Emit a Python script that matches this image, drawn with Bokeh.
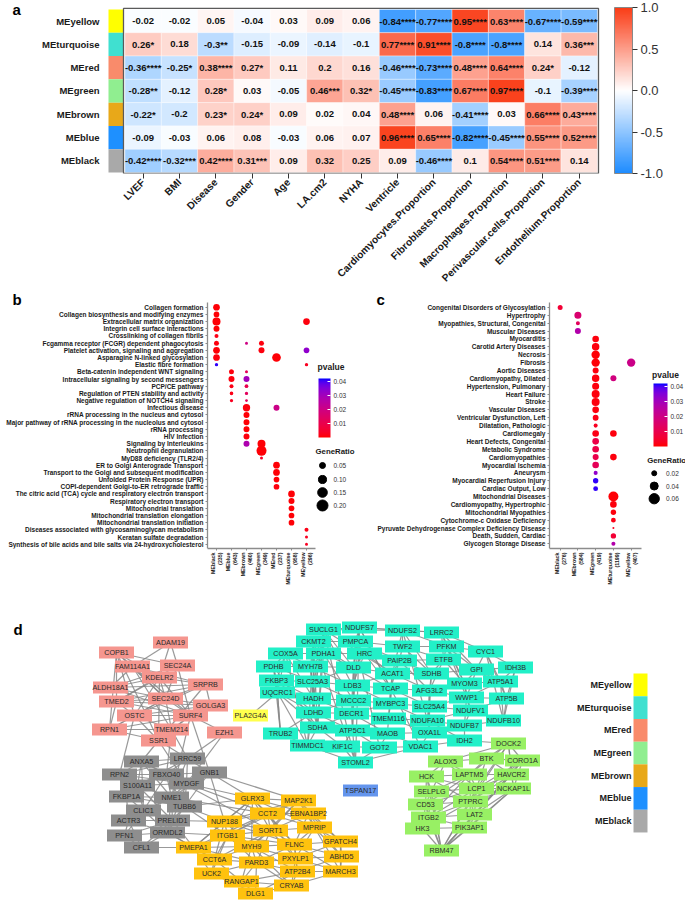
import math
from bokeh.plotting import figure
from bokeh.models import (Range1d, FixedTicker, LinearColorMapper, ColorBar,
                          PrintfTickFormatter, ColumnDataSource)
from bokeh.layouts import column, row
from bokeh.core.properties import value
from bokeh.embed import file_html
from bokeh.resources import INLINE

FONT = "Liberation Sans"

# ---------------- panel a data ----------------
modules_a = ["MEyellow", "MEturquoise", "MEred", "MEgreen", "MEbrown", "MEblue", "MEblack"]
traits = ["LVEF", "BMI", "Disease", "Gender", "Age", "LA.cm2", "NYHA", "Ventricle",
          "Cardiomyocytes.Proportion", "Fibroblasts.Proportion", "Macrophages.Proportion",
          "Perivascular.cells.Proportion", "Endothelium.Proportion"]
corr_yellow = [-0.02, -0.02, 0.05, -0.04, 0.03, 0.09, 0.06, -0.84, -0.77, 0.95, 0.63, -0.67, -0.59]
corr_turquoise = [0.26, 0.18, -0.3, -0.15, -0.09, -0.14, -0.1, 0.77, 0.91, -0.8, -0.8, 0.14, 0.36]
corr_red = [-0.36, -0.25, 0.38, 0.27, 0.11, 0.2, 0.16, -0.46, -0.73, 0.48, 0.64, 0.24, -0.12]
corr_green = [-0.28, -0.12, 0.28, 0.03, -0.05, 0.46, 0.32, -0.45, -0.83, 0.67, 0.97, -0.1, -0.39]
corr_brown = [-0.22, -0.2, 0.23, 0.24, 0.09, 0.02, 0.04, 0.48, 0.06, -0.41, 0.03, 0.66, 0.43]
corr_blue = [-0.09, -0.03, 0.06, 0.08, -0.03, 0.06, 0.07, 0.96, 0.65, -0.82, -0.45, 0.55, 0.52]
corr_black = [-0.42, -0.32, 0.42, 0.31, 0.09, 0.32, 0.25, 0.09, -0.46, 0.1, 0.54, 0.51, 0.14]
stars_yellow = ["", "", "", "", "", "", "", "****", "****", "****", "****", "****", "****"]
stars_turquoise = ["*", "", "**", "", "", "", "", "****", "****", "****", "****", "", "***"]
stars_red = ["****", "*", "****", "*", "", "", "", "****", "****", "****", "****", "*", ""]
stars_green = ["**", "", "*", "", "", "***", "*", "****", "****", "****", "****", "", "****"]
stars_brown = ["*", "", "*", "*", "", "", "", "****", "", "****", "", "****", "****"]
stars_blue = ["", "", "", "", "", "", "", "****", "****", "****", "****", "****", "****"]
stars_black = ["****", "***", "****", "***", "", "", "", "", "****", "", "****", "****", ""]
corr = [corr_yellow, corr_turquoise, corr_red, corr_green, corr_brown, corr_blue, corr_black]
stars = [stars_yellow, stars_turquoise, stars_red, stars_green, stars_brown, stars_blue, stars_black]
corr_ticks = [-1.0, -0.5, 0.0, 0.5, 1.0]

# ---------------- panel b data ----------------
b_terms = ["Collagen formation", "Collagen biosynthesis and modifying enzymes",
           "Extracellular matrix organization", "Integrin cell surface interactions",
           "Crosslinking of collagen fibrils", "Fcgamma receptor (FCGR) dependent phagocytosis",
           "Platelet activation, signaling and aggregation", "Asparagine N-linked glycosylation",
           "Elastic fibre formation", "Beta-catenin independent WNT signaling",
           "Intracellular signaling by second messengers", "PCP/CE pathway",
           "Regulation of PTEN stability and activity", "Negative regulation of NOTCH4 signaling",
           "Infectious disease", "rRNA processing in the nucleus and cytosol",
           "Major pathway of rRNA processing in the nucleolus and cytosol", "rRNA processing",
           "HIV Infection", "Signaling by Interleukins", "Neutrophil degranulation",
           "MyD88 deficiency (TLR2/4)", "ER to Golgi Anterograde Transport",
           "Transport to the Golgi and subsequent modification", "Unfolded Protein Response (UPR)",
           "COPI-dependent Golgi-to-ER retrograde traffic",
           "The citric acid (TCA) cycle and respiratory electron transport",
           "Respiratory electron transport", "Mitochondrial translation",
           "Mitochondrial translation elongation", "Mitochondrial translation initiation",
           "Diseases associated with glycosaminoglycan metabolism", "Keratan sulfate degradation",
           "Synthesis of bile acids and bile salts via 24-hydroxycholesterol"]
b_modules = ["MEblack\n(235)", "MEblue\n(643)", "MEbrown\n(460)", "MEgreen\n(349)",
             "MEred\n(237)", "MEturquoise\n(958)", "MEyellow\n(296)"]
b_dot_term = [0, 1, 2, 3, 4, 5, 6, 7, 8, 5, 5, 6, 7, 2, 6, 8, 9, 10, 11, 12, 13, 9, 10, 11, 12, 13,
              14, 15, 16, 17, 18, 19, 14, 19, 20, 21, 22, 23, 24, 25, 26, 27, 28, 29, 30, 31, 32, 33]
b_dot_module = [0, 0, 0, 0, 0, 0, 0, 0, 0, 2, 3, 3, 4, 6, 6, 6, 1, 1, 1, 1, 1, 2, 2, 2, 2, 2,
                2, 2, 2, 2, 2, 2, 4, 3, 3, 3, 4, 4, 4, 4, 5, 5, 5, 5, 5, 6, 6, 6]
b_dot_ratio = [.065, .044, .098, .05, .018, .032, .065, .065, .011, .008, .032, .05, .118, .065, .044, .011,
               .032, .05, .018, .014, .011, .008, .05, .015, .011, .006,
               .08, .05, .05, .05, .05, .05, .05, .098, .162, .008, .065, .065, .044, .044,
               .065, .05, .044, .044, .044, .018, .008, .008]
b_dot_p = [.0005, .0005, .0005, .0005, .002, .001, .0005, .001, .041, .02, .001, .001, .0005, .001, .033, .003,
           .001, .001, .002, .002, .003, .012, .03, .01, .013, .012,
           .001, .0005, .0005, .0005, .001, .028, .021, .0005, .0005, .004, .0005, .0005, .0005, .001,
           .0005, .0005, .0005, .0005, .0005, .002, .003, .003]
b_size_breaks = [0.05, 0.10, 0.15, 0.20]
p_ticks = [0.01, 0.02, 0.03, 0.04]

# ---------------- panel c data ----------------
c_terms = ["Congenital Disorders of Glycosylation", "Hypertrophy", "Myopathies, Structural, Congenital",
           "Muscular Diseases", "Myocarditis", "Carotid Artery Diseases", "Necrosis", "Fibrosis",
           "Aortic Diseases", "Cardiomyopathy, Dilated", "Hypertension, Pulmonary", "Heart Failure",
           "Stroke", "Vascular Diseases", "Ventricular Dysfunction, Left", "Dilatation, Pathologic",
           "Cardiomegaly", "Heart Defects, Congenital", "Metabolic Syndrome", "Cardiomyopathies",
           "Myocardial Ischemia", "Aneurysm", "Myocardial Reperfusion Injury", "Cardiac Output, Low",
           "Mitochondrial Diseases", "Cardiomyopathy, Hypertrophic", "Mitochondrial Myopathies",
           "Cytochrome-c Oxidase Deficiency", "Pyruvate Dehydrogenase Complex Deficiency Disease",
           "Death, Sudden, Cardiac", "Glycogen Storage Disease"]
c_modules = ["MEblack\n(276)", "MEbrown\n(584)", "MEgreen\n(419)", "MEturquoise\n(1199)", "MEyellow\n(407)"]
c_dot_term = [0, 1, 2, 3, 4, 5, 6, 7, 7, 8, 9, 9, 10, 11, 12, 13, 14, 15, 16, 16, 17, 18, 19, 19, 20, 21,
              22, 23, 24, 25, 26, 27, 28, 29, 30]
c_dot_module = [0, 1, 1, 1, 2, 2, 2, 2, 4, 2, 2, 3, 2, 2, 2, 2, 2, 2, 2, 3, 2, 2, 2, 3, 2, 2,
                2, 2, 3, 3, 3, 3, 3, 3, 3]
c_dot_ratio = [.02, .033, .015, .026, .03, .036, .043, .043, .043, .026, .036, .026, .033, .04, .04, .03,
               .025, .015, .03, .03, .03, .03, .026, .03, .03, .015, .022, .019,
               .057, .03, .022, .019, .007, .022, .015]
c_dot_p = [.006, .016, .013, .027, .001, .001, .0005, .0005, .021, .001, .001, .019, .001, .001, .001, .001,
           .002, .003, .002, .001, .009, .009, .01, .001, .012, .033, .041, .041,
           .0005, .001, .001, .002, .003, .006, .027]
c_size_breaks = [0.02, 0.04, 0.06]

# ---------------- panel d data (network) ----------------
net_nodes = ["COPB1", "ADAM19", "FAM114A1", "SEC24A", "KDELR2", "ALDH18A1", "SRPRB", "TMED2", "SEC24D",
             "GOLGA3", "OSTC", "SURF4", "RPN1", "TMEM214", "EZH1", "SSR1",
             "PLA2G4A", "TSPAN17",
             "SUCLG1", "NDUFS7", "NDUFS2", "LRRC2", "CKMT2", "PMPCA", "TWF2", "PFKM", "CYC1", "COX5A",
             "PDHA1", "HRC", "PAIP2B", "ETFB", "PDHB", "MYH7B", "DLD", "GPI", "IDH3B", "ACAT1", "SDHB",
             "FKBP3", "SLC25A3", "LDB3", "TCAP", "AFG3L2", "MYOM3", "ATP5A1", "UQCRC1", "HADH", "MCCC2",
             "MYBPC3", "SLC25A4", "WWP1", "ATP5B", "LDHD", "DECR1", "NDUFV1", "TMEM116", "NDUFA10",
             "NDUFB10", "NDUFB7", "SDHA", "ATP5C1", "MAOB", "OXA1L", "TRUB2", "IDH2", "TIMMDC1", "KIF1C",
             "GOT2", "VDAC1", "STOML2",
             "ANXA5", "LRRC59", "RPN2", "FBXO40", "GNB1", "S100A11", "MYDGF", "FKBP1A", "NME1", "CLIC1",
             "TUBB6", "ACTR3", "PRELID1", "PFN1", "ORMDL2", "CFL1",
             "GLRX3", "MAP2K1", "CCT2", "EBNA1BP2", "NUP188", "SORT1", "MPRIP", "ITGB1", "PMEPA1", "MYH9",
             "FLNC", "GPATCH4", "CCT6A", "PARD3", "PXYLP1", "ABHD5", "UCK2", "ATP2B4", "MARCH3", "RANGAP1",
             "CRYAB", "DLG1",
             "DOCK2", "ALOX5", "BTK", "CORO1A", "HCK", "LAPTM5", "HAVCR2", "SELPLG", "LCP1", "NCKAP1L",
             "CD53", "PTPRC", "ITGB2", "LAT2", "HK3", "PIK3AP1", "RBM47"]
net_module = (["red"] * 16 + ["yellow", "blue"] + ["turquoise"] * 53 + ["black"] * 16
              + ["brown"] * 22 + ["green"] * 17)
net_x = [116, 170, 132, 177, 159, 110, 205, 116, 165, 210, 134, 190, 109, 171, 224, 158,
         250, 360,
         323, 359, 402, 441, 313, 355, 402, 446, 485, 285, 323, 364, 399, 443, 273, 310, 353, 476, 515,
         392, 431, 276, 312, 352, 390, 429, 464, 500, 277, 313, 353, 390, 429, 466, 506, 313, 351, 470,
         388, 427, 503, 464, 317, 352, 387, 429, 280, 464, 307, 342, 379, 420, 355,
         141, 187, 119, 166, 209, 137, 186, 126, 171, 143, 184, 128, 172, 124, 167, 141,
         252, 298, 267, 308, 224, 270, 314, 227, 193, 251, 294, 340, 214, 256, 295, 341, 211, 297, 340,
         241, 291, 255,
         508, 445, 486, 522, 426, 469, 511, 431, 476, 513, 425, 470, 428, 474, 422, 469, 441]
net_y = [652, 642, 666, 665, 677, 687, 684, 701, 698, 705, 715, 715, 729, 729, 732, 740,
         715, 790,
         629, 627, 630, 632, 641, 641, 646, 646, 651, 653, 653, 653, 660, 659, 666, 666, 667, 669, 667,
         673, 673, 680, 681, 685, 688, 690, 683, 681, 692, 698, 700, 703, 706, 697, 698, 712, 713, 710,
         718, 720, 720, 725, 727, 730, 733, 732, 733, 740, 745, 746, 747, 746, 762,
         761, 758, 774, 774, 772, 785, 783, 796, 797, 810, 806, 820, 820, 835, 832, 847,
         798, 800, 813, 813, 821, 830, 827, 835, 847, 846, 844, 841, 859, 862, 858, 856, 873, 871, 871,
         881, 885, 893,
         743, 761, 758, 760, 776, 774, 774, 791, 788, 788, 804, 801, 817, 814, 828, 827, 850]
net_edges = """
COPB1-KDELR2 COPB1-SEC24D COPB1-TMED2 COPB1-SURF4 COPB1-SSR1 COPB1-OSTC COPB1-SEC24A COPB1-RPN1
ADAM19-KDELR2 ADAM19-SEC24A ADAM19-FAM114A1 FAM114A1-SRPRB FAM114A1-SEC24D FAM114A1-TMEM214
FAM114A1-ALDH18A1 SEC24A-SEC24D SEC24A-TMED2 SEC24A-SURF4 SEC24A-ALDH18A1 KDELR2-SEC24D KDELR2-TMED2
KDELR2-SURF4 KDELR2-SRPRB KDELR2-OSTC KDELR2-ALDH18A1 KDELR2-SSR1 ALDH18A1-SRPRB ALDH18A1-SEC24D
ALDH18A1-SURF4 SRPRB-SEC24D SRPRB-TMED2 SRPRB-OSTC SRPRB-SSR1 SRPRB-GOLGA3 TMED2-SEC24D TMED2-SURF4
TMED2-OSTC TMED2-RPN1 TMED2-GOLGA3 SEC24D-SURF4 SEC24D-OSTC SEC24D-GOLGA3 SEC24D-TMEM214 SEC24D-RPN1
GOLGA3-SURF4 GOLGA3-OSTC OSTC-SURF4 OSTC-RPN1 OSTC-SSR1 OSTC-TMEM214 SURF4-TMEM214 SURF4-SSR1
SURF4-EZH1 SURF4-RPN1 RPN1-SSR1 RPN1-TMEM214 TMEM214-SSR1
SSR1-LRRC59 SSR1-ANXA5 TMEM214-LRRC59 SURF4-GNB1 EZH1-LRRC59 SSR1-MYDGF TMEM214-FBXO40 SURF4-NME1
OSTC-RPN2 EZH1-MYDGF PLA2G4A-UQCRC1 IDH2-DOCK2
ANXA5-LRRC59 ANXA5-RPN2 ANXA5-FBXO40 ANXA5-S100A11 ANXA5-MYDGF ANXA5-NME1 ANXA5-CLIC1 LRRC59-FBXO40
LRRC59-GNB1 LRRC59-MYDGF LRRC59-RPN2 LRRC59-S100A11 LRRC59-NME1 RPN2-FBXO40 RPN2-S100A11 RPN2-FKBP1A
RPN2-MYDGF FBXO40-GNB1 FBXO40-S100A11 FBXO40-MYDGF FBXO40-NME1 FBXO40-TUBB6 FBXO40-CLIC1 GNB1-MYDGF
GNB1-TUBB6 GNB1-NME1 S100A11-MYDGF S100A11-FKBP1A S100A11-NME1 S100A11-CLIC1 S100A11-PRELID1
MYDGF-NME1 MYDGF-TUBB6 MYDGF-PRELID1 FKBP1A-NME1 FKBP1A-CLIC1 FKBP1A-ACTR3 FKBP1A-TUBB6 NME1-CLIC1
NME1-TUBB6 NME1-PRELID1 NME1-ACTR3 NME1-ORMDL2 CLIC1-ACTR3 CLIC1-PRELID1 CLIC1-PFN1 CLIC1-ORMDL2
TUBB6-PRELID1 TUBB6-ORMDL2 ACTR3-PRELID1 ACTR3-PFN1 ACTR3-CFL1 ACTR3-ORMDL2 PRELID1-ORMDL2
PRELID1-CFL1 PFN1-CFL1 PFN1-ORMDL2 ORMDL2-CFL1 PFN1-PRELID1
GNB1-GLRX3 GNB1-NUP188 MYDGF-GLRX3 MYDGF-CCT2 TUBB6-NUP188 TUBB6-ITGB1 TUBB6-GLRX3 PRELID1-PMEPA1
PRELID1-NUP188 ORMDL2-PMEPA1 ORMDL2-ITGB1 NME1-CCT2 FBXO40-SORT1 ORMDL2-CCT6A CFL1-PMEPA1 GNB1-MAP2K1
GLRX3-MAP2K1 GLRX3-CCT2 GLRX3-NUP188 GLRX3-SORT1 GLRX3-ITGB1 GLRX3-MYH9 GLRX3-FLNC GLRX3-EBNA1BP2
GLRX3-PMEPA1 GLRX3-MPRIP MAP2K1-CCT2 MAP2K1-EBNA1BP2 MAP2K1-SORT1 MAP2K1-MPRIP MAP2K1-NUP188
MAP2K1-GPATCH4 MAP2K1-ITGB1 MAP2K1-MYH9 CCT2-EBNA1BP2 CCT2-NUP188 CCT2-SORT1 CCT2-ITGB1 CCT2-MPRIP
CCT2-FLNC CCT2-PMEPA1 CCT2-PXYLP1 EBNA1BP2-MPRIP EBNA1BP2-SORT1 EBNA1BP2-GPATCH4 EBNA1BP2-FLNC
EBNA1BP2-ABHD5 NUP188-SORT1 NUP188-ITGB1 NUP188-PMEPA1 NUP188-MYH9 NUP188-CCT6A NUP188-FLNC
SORT1-MPRIP SORT1-ITGB1 SORT1-MYH9 SORT1-FLNC SORT1-PARD3 SORT1-PXYLP1 SORT1-CCT6A MPRIP-FLNC
MPRIP-GPATCH4 MPRIP-ABHD5 MPRIP-PXYLP1 MPRIP-MARCH3 ITGB1-PMEPA1 ITGB1-MYH9 ITGB1-CCT6A ITGB1-PARD3
ITGB1-UCK2 ITGB1-FLNC PMEPA1-MYH9 PMEPA1-CCT6A PMEPA1-UCK2 PMEPA1-PARD3 MYH9-FLNC MYH9-CCT6A
MYH9-PARD3 MYH9-PXYLP1 MYH9-RANGAP1 MYH9-ATP2B4 MYH9-CRYAB FLNC-GPATCH4 FLNC-PXYLP1 FLNC-ABHD5
FLNC-ATP2B4 FLNC-PARD3 FLNC-MARCH3 GPATCH4-ABHD5 GPATCH4-PXYLP1 GPATCH4-MARCH3 CCT6A-PARD3
CCT6A-UCK2 CCT6A-RANGAP1 PARD3-PXYLP1 PARD3-UCK2 PARD3-RANGAP1 PARD3-ATP2B4 PARD3-CRYAB PARD3-DLG1
PXYLP1-ABHD5 PXYLP1-ATP2B4 PXYLP1-CRYAB PXYLP1-MARCH3 ABHD5-MARCH3 ABHD5-ATP2B4 UCK2-RANGAP1
UCK2-DLG1 RANGAP1-DLG1 RANGAP1-CRYAB RANGAP1-ATP2B4 ATP2B4-CRYAB ATP2B4-MARCH3 CRYAB-DLG1
ATP2B4-DLG1 MARCH3-CRYAB
SUCLG1-NDUFS7 SUCLG1-PDHA1 SUCLG1-DLD SUCLG1-LDB3 SUCLG1-HADH SUCLG1-SDHA SUCLG1-ACAT1 SUCLG1-NDUFS2
NDUFS7-NDUFS2 NDUFS7-LRRC2 NDUFS7-PMPCA NDUFS7-DLD NDUFS7-TCAP NDUFS7-MCCC2 NDUFS7-STOML2
NDUFS2-LRRC2 NDUFS2-TWF2 NDUFS2-PFKM NDUFS2-ACAT1 NDUFS2-SDHB NDUFS2-NDUFA10 LRRC2-PFKM LRRC2-CYC1
LRRC2-ETFB LRRC2-GPI LRRC2-MYOM3 CKMT2-PDHA1 CKMT2-MYH7B CKMT2-DLD CKMT2-HADH CKMT2-LDHD CKMT2-SDHA
CKMT2-TIMMDC1 CKMT2-PMPCA PMPCA-HRC PMPCA-TWF2 PMPCA-PAIP2B PMPCA-DLD PMPCA-ATP5C1 TWF2-PFKM
TWF2-PAIP2B TWF2-ETFB TWF2-SDHB PFKM-CYC1 PFKM-ETFB PFKM-GPI PFKM-MYOM3 PFKM-WWP1 CYC1-IDH3B
CYC1-GPI CYC1-ATP5A1 CYC1-ATP5B CYC1-NDUFB10 COX5A-PDHA1 COX5A-PDHB COX5A-MYH7B COX5A-FKBP3
COX5A-UQCRC1 COX5A-HADH PDHA1-HRC PDHA1-MYH7B PDHA1-DLD PDHA1-SLC25A3 PDHA1-MCCC2 PDHA1-SDHA
HRC-DLD HRC-PAIP2B HRC-ACAT1 HRC-LDB3 HRC-TCAP PAIP2B-ETFB PAIP2B-ACAT1 PAIP2B-SDHB PAIP2B-TCAP
PAIP2B-AFG3L2 ETFB-GPI ETFB-SDHB ETFB-MYOM3 ETFB-ATP5A1 ETFB-AFG3L2 PDHB-MYH7B PDHB-FKBP3
PDHB-UQCRC1 PDHB-SLC25A3 PDHB-TRUB2 PDHB-SDHA MYH7B-DLD MYH7B-SLC25A3 MYH7B-HADH MYH7B-LDB3
MYH7B-LDHD DLD-LDB3 DLD-ACAT1 DLD-MCCC2 DLD-TCAP DLD-SLC25A3 GPI-IDH3B GPI-ATP5A1 GPI-MYOM3 GPI-WWP1
GPI-SDHB IDH3B-ATP5A1 IDH3B-ATP5B IDH3B-NDUFB10 ACAT1-SDHB ACAT1-TCAP ACAT1-LDB3 ACAT1-AFG3L2
ACAT1-MYBPC3 SDHB-AFG3L2 SDHB-MYOM3 SDHB-SLC25A4 FKBP3-SLC25A3 FKBP3-UQCRC1 FKBP3-HADH FKBP3-TRUB2
FKBP3-LDHD SLC25A3-LDB3 SLC25A3-HADH SLC25A3-MCCC2 SLC25A3-LDHD LDB3-TCAP LDB3-MCCC2 LDB3-MYBPC3
LDB3-DECR1 TCAP-AFG3L2 TCAP-MYBPC3 TCAP-SLC25A4 TCAP-TMEM116 AFG3L2-MYOM3 AFG3L2-SLC25A4
AFG3L2-NDUFA10 AFG3L2-WWP1 MYOM3-ATP5A1 MYOM3-WWP1 MYOM3-NDUFV1 ATP5A1-ATP5B ATP5A1-WWP1
ATP5A1-NDUFB10 UQCRC1-HADH UQCRC1-LDHD UQCRC1-TRUB2 UQCRC1-SDHA UQCRC1-TIMMDC1 HADH-MCCC2 HADH-LDHD
HADH-DECR1 HADH-SDHA MCCC2-MYBPC3 MCCC2-DECR1 MCCC2-LDHD MCCC2-ATP5C1 MYBPC3-SLC25A4 MYBPC3-TMEM116
MYBPC3-DECR1 MYBPC3-NDUFA10 SLC25A4-WWP1 SLC25A4-NDUFA10 SLC25A4-NDUFV1 SLC25A4-OXA1L WWP1-ATP5B
WWP1-NDUFV1 WWP1-NDUFB7 ATP5B-NDUFV1 ATP5B-NDUFB10 LDHD-DECR1 LDHD-SDHA LDHD-ATP5C1 LDHD-TRUB2
DECR1-TMEM116 DECR1-ATP5C1 DECR1-SDHA DECR1-MAOB NDUFV1-NDUFA10 NDUFV1-NDUFB10 NDUFV1-NDUFB7
TMEM116-NDUFA10 TMEM116-MAOB TMEM116-OXA1L TMEM116-ATP5C1 NDUFA10-NDUFB7 NDUFA10-OXA1L NDUFA10-IDH2
NDUFB10-NDUFB7 NDUFB7-IDH2 NDUFB7-OXA1L SDHA-ATP5C1 SDHA-TIMMDC1 SDHA-KIF1C SDHA-TRUB2 ATP5C1-MAOB
ATP5C1-GOT2 ATP5C1-KIF1C ATP5C1-STOML2 MAOB-OXA1L MAOB-GOT2 MAOB-VDAC1 OXA1L-IDH2 OXA1L-VDAC1
TRUB2-TIMMDC1 TIMMDC1-KIF1C KIF1C-GOT2 GOT2-VDAC1 VDAC1-IDH2 KIF1C-STOML2 GOT2-STOML2 STOML2-VDAC1
TIMMDC1-STOML2 SUCLG1-STOML2 CKMT2-STOML2 COX5A-TIMMDC1 SUCLG1-TIMMDC1 NDUFS7-VDAC1 PMPCA-GOT2
DOCK2-BTK DOCK2-ALOX5 DOCK2-LAPTM5 DOCK2-HAVCR2 DOCK2-CORO1A DOCK2-LCP1 DOCK2-PTPRC DOCK2-NCKAP1L
ALOX5-BTK ALOX5-HCK ALOX5-LAPTM5 ALOX5-LCP1 ALOX5-SELPLG BTK-CORO1A BTK-LAPTM5 BTK-HAVCR2 BTK-LCP1
CORO1A-HAVCR2 CORO1A-NCKAP1L CORO1A-LCP1 CORO1A-PTPRC CORO1A-LAT2 HCK-LAPTM5 HCK-SELPLG HCK-LCP1
HCK-CD53 HCK-PTPRC LAPTM5-HAVCR2 LAPTM5-LCP1 LAPTM5-SELPLG LAPTM5-CD53 LAPTM5-PTPRC LAPTM5-ITGB2
HAVCR2-NCKAP1L HAVCR2-LCP1 HAVCR2-PTPRC HAVCR2-LAT2 SELPLG-LCP1 SELPLG-CD53 SELPLG-PTPRC
SELPLG-ITGB2 LCP1-NCKAP1L LCP1-PTPRC LCP1-CD53 LCP1-ITGB2 LCP1-LAT2 NCKAP1L-PTPRC NCKAP1L-LAT2
NCKAP1L-PIK3AP1 NCKAP1L-RBM47 CD53-PTPRC CD53-ITGB2 CD53-HK3 PTPRC-ITGB2 PTPRC-LAT2 PTPRC-HK3
PTPRC-PIK3AP1 ITGB2-LAT2 ITGB2-HK3 ITGB2-PIK3AP1 ITGB2-RBM47 LAT2-PIK3AP1 LAT2-RBM47 HK3-PIK3AP1
HK3-RBM47 PIK3AP1-RBM47 HCK-RBM47 CD53-RBM47 LCP1-RBM47 PTPRC-RBM47 SELPLG-RBM47 HAVCR2-RBM47
CORO1A-RBM47
""".split()

# ---------------- styles ----------------
strip_colors = {"MEyellow": "#FFFF00", "MEturquoise": "#40E0D0", "MEred": "#F98B6B",
                "MEgreen": "#90EE90", "MEbrown": "#E8A819", "MEblue": "#1E90FF", "MEblack": "#A9A9A9"}
node_colors = {"red": "#F5968F", "yellow": "#FFFF4D", "blue": "#6495ED", "turquoise": "#22F0C8",
               "black": "#8E8E8E", "brown": "#FFC20E", "green": "#98F064"}
TXT = "#1a1a1a"


def hex2rgb(h):
    return tuple(int(h[i:i + 2], 16) for i in (1, 3, 5))


def mix(c1, c2, t):
    a, b = hex2rgb(c1), hex2rgb(c2)
    return "#%02x%02x%02x" % tuple(int(round(a[k] + (b[k] - a[k]) * t)) for k in range(3))


def rgb2lab(h):
    def f(c):
        c = c / 255
        return c / 12.92 if c <= 0.04045 else ((c + 0.055) / 1.055) ** 2.4
    r, g, b = (f(c) for c in hex2rgb(h))
    X = (0.4124 * r + 0.3576 * g + 0.1805 * b) / 0.95047
    Y = 0.2126 * r + 0.7152 * g + 0.0722 * b
    Z = (0.0193 * r + 0.1192 * g + 0.9505 * b) / 1.08883

    def gg(t):
        return t ** (1 / 3) if t > 0.008856 else 7.787 * t + 16 / 116
    fx, fy, fz = gg(X), gg(Y), gg(Z)
    return (116 * fy - 16, 500 * (fx - fy), 200 * (fy - fz))


def lab2hex(L, a, b):
    fy = (L + 16) / 116
    fx = fy + a / 500
    fz = fy - b / 200

    def gi(t):
        return t ** 3 if t ** 3 > 0.008856 else (t - 16 / 116) / 7.787
    X, Y, Z = 0.95047 * gi(fx), gi(fy), 1.08883 * gi(fz)
    r = 3.2406 * X - 1.5372 * Y - 0.4986 * Z
    g = -0.9689 * X + 1.8758 * Y + 0.0415 * Z
    bb = 0.0557 * X - 0.2040 * Y + 1.0570 * Z

    def h(c):
        c = max(0.0, min(1.0, c))
        c = 12.92 * c if c <= 0.0031308 else 1.055 * c ** (1 / 2.4) - 0.055
        return int(round(max(0.0, min(1.0, c)) * 255))
    return "#%02x%02x%02x" % (h(r), h(g), h(bb))


la, lb = rgb2lab("#FF0000"), rgb2lab("#0000FF")
pal_p = [lab2hex(*[la[k] + (lb[k] - la[k]) * i / 99 for k in range(3)]) for i in range(100)]
pal_a = []
for i in range(201):
    t = -1 + i / 100
    pal_a.append(mix("#FFFFFF", "#1E8CFF", -t) if t < 0 else mix("#FFFFFF", "#FA3C16", t))

cmap_a = LinearColorMapper(palette=pal_a, low=-1, high=1)
cmap_p = LinearColorMapper(palette=pal_p, low=0, high=0.042)


def style_axis(ax, size):
    ax.major_label_text_font = FONT
    ax.major_label_text_font_size = size
    ax.major_label_text_font_style = "bold"
    ax.major_label_text_color = TXT
    ax.minor_tick_line_color = None


def letter(p, x, y, t):
    p.text(x=[x], y=[y], text=[t], text_baseline="top", text_font=value(FONT),
           text_font_size="15px", text_font_style="bold", text_color="black")


W = 685
# ================= panel a =================
nr, ncol = len(modules_a), len(traits)
hx, hy, hv, ht = [], [], [], []
for i in range(nr):
    for j in range(ncol):
        hx.append(j)
        hy.append(nr - 1 - i)
        hv.append(corr[i][j])
        ht.append(f"{corr[i][j]:g}{stars[i][j]}")
src_a = ColumnDataSource(dict(x=hx, y=hy, v=hv, t=ht))

UX = 475 / 13.07                # px per column
UY = 166 / 7.08                 # px per row
XA0 = -0.54 - 123 / UX          # canvas x = 0
YA1 = -0.54 + 174 / UY          # canvas y = 0
pa = figure(width=W, height=290, x_range=Range1d(XA0, XA0 + W / UX),
            y_range=Range1d(-0.54, YA1), min_border_left=0, min_border_right=0,
            min_border_top=0, min_border_bottom=116, output_backend="svg", toolbar_location=None)
pa.grid.visible = False
pa.outline_line_color = None
pa.rect(x=[-0.54 - 7.5 / UX] * nr, y=list(range(nr - 1, -1, -1)), width=15 / UX, height=1.0,
        fill_color=[strip_colors[m] for m in modules_a], line_color=None)
pa.rect("x", "y", width=1, height=1, source=src_a, fill_color={"field": "v", "transform": cmap_a},
        line_color="white", line_width=0.6, line_alpha=0.6)
pa.quad(left=[-0.54], right=[12.53], bottom=[-0.54], top=[6.54], fill_color=None,
        line_color="#5a5a5a", line_width=1.3)
pa.text("x", "y", text="t", source=src_a, text_align="center", text_baseline="middle",
        text_font=value(FONT), text_font_size="9.5px", text_font_style="bold", text_color="#111111")
pa.xaxis.ticker = FixedTicker(ticks=list(range(ncol)))
pa.xaxis.major_label_overrides = {j: t for j, t in enumerate(traits)}
pa.xaxis.major_label_orientation = math.pi / 4
pa.xaxis.axis_line_color = None
pa.xaxis.major_tick_in = 0
pa.xaxis.major_tick_out = 5
pa.xaxis.major_tick_line_color = "#333333"
pa.xaxis.major_label_standoff = 2
style_axis(pa.xaxis, "10.2px")
pa.yaxis.fixed_location = -0.54 - 15 / UX
pa.yaxis.ticker = FixedTicker(ticks=list(range(nr)))
pa.yaxis.major_label_overrides = {nr - 1 - i: m for i, m in enumerate(modules_a)}
pa.yaxis.axis_line_color = None
pa.yaxis.major_tick_line_color = None
pa.yaxis.major_label_standoff = 3
style_axis(pa.yaxis, "9.5px")
cb_a = ColorBar(color_mapper=cmap_a, orientation="vertical", width=18, height=166, location=(614, 0),
                padding=0, margin=0, ticker=FixedTicker(ticks=corr_ticks),
                formatter=PrintfTickFormatter(format="%.1f"), major_label_text_font=FONT,
                major_label_text_font_size="13px", major_label_text_color="#333333",
                major_tick_in=0, major_tick_out=5, major_tick_line_color="#333333",
                bar_line_color="#888888", border_line_color=None, background_fill_color=None,
                label_standoff=3)
pa.add_layout(cb_a)
letter(pa, XA0 + 12 / UX, YA1, "a")


# ================= panels b, c =================
H_BC = 300


def dot_fig(width, axis_px, bottom_px, unit, row_px, terms, mods):
    n = len(terms)
    fh = H_BC - bottom_px
    x0 = -0.6 - axis_px / unit
    y_top = -0.6 + fh / row_px
    p = figure(width=width, height=H_BC, x_range=Range1d(x0, x0 + width / unit),
               y_range=Range1d(-0.6, y_top), min_border_left=0, min_border_right=0,
               min_border_top=0, min_border_bottom=bottom_px, output_backend="svg",
               toolbar_location=None)
    p.grid.visible = False
    p.outline_line_color = None
    p.yaxis.fixed_location = -0.6
    p.yaxis.bounds = (-0.6, n - 1 + 0.6)
    p.yaxis.ticker = FixedTicker(ticks=list(range(n)))
    p.yaxis.major_label_overrides = {n - 1 - i: t for i, t in enumerate(terms)}
    p.xaxis.ticker = FixedTicker(ticks=list(range(len(mods))))
    p.xaxis.major_label_overrides = {i: m for i, m in enumerate(mods)}
    p.xaxis.major_label_orientation = math.pi / 2
    p.xaxis.bounds = (-0.6, len(mods) - 1 + 0.6)
    for ax in (p.xaxis, p.yaxis):
        ax.axis_line_color = "#8c8c8c"
        ax.axis_line_width = 1.3
        ax.major_tick_in = 0
        ax.major_tick_out = 2
        ax.major_tick_line_color = "#8c8c8c"
        ax.major_label_standoff = 2
    style_axis(p.yaxis, "6.5px")
    style_axis(p.xaxis, "5.3px")
    return p, x0, y_top


def size_b(r):
    return 1 + 22.36 * math.sqrt(r)


def size_c(r):
    return max(1.5, 51.2 * math.sqrt(r) - 2.24)


def pbar(x_px, y_px, w, h):
    return ColorBar(color_mapper=cmap_p, orientation="vertical", width=w, height=h, location=(x_px, y_px),
                    padding=0, margin=0, ticker=FixedTicker(ticks=p_ticks),
                    formatter=PrintfTickFormatter(format="%.2f"), major_label_text_font=FONT,
                    major_label_text_font_size="6.5px", major_label_text_color="#333333",
                    major_tick_in=3, major_tick_out=0, major_tick_line_color="white",
                    bar_line_color=None, border_line_color=None, background_fill_color=None,
                    label_standoff=3)


# ---- b ----  (figure spans page x 0..356)
UB, RB = 15.0, 7.18
pb, xb0, ytb = dot_fig(356, 207, 42, UB, RB, b_terms, b_modules)
nb = len(b_terms)
src_b = ColumnDataSource(dict(x=b_dot_module, y=[nb - 1 - t for t in b_dot_term],
                              s=[size_b(r) for r in b_dot_ratio], p=b_dot_p))
pb.scatter("x", "y", size="s", source=src_b, fill_color={"field": "p", "transform": cmap_p},
           line_color=None)
pb.add_layout(pbar(318, 111, 12, 59))
pb.text(x=[xb0 + 317 / UB], y=[23.95], text=["pvalue"], text_font=value(FONT), text_font_size="8.5px",
        text_font_style="bold", text_baseline="bottom", text_color=TXT)
leg_b_y = [10.96, 9.01, 7.2, 5.39]
pb.text(x=[xb0 + 315 / UB], y=[12.91], text=["GeneRatio"], text_font=value(FONT), text_font_size="7.8px",
        text_font_style="bold", text_baseline="middle", text_color=TXT)
pb.scatter(x=[xb0 + 322 / UB] * 4, y=leg_b_y, size=[size_b(r) for r in b_size_breaks], color="black")
pb.text(x=[xb0 + 333 / UB] * 4, y=leg_b_y, text=["%.2f" % r for r in b_size_breaks],
        text_font=value(FONT), text_font_size="6.5px", text_baseline="middle", text_color="#333333")
letter(pb, xb0 + 12 / UB, ytb, "b")

# ---- c ----  (figure spans page x 356..685)
UC, RC = 17.75, 8.03
pc, xc0, ytc = dot_fig(329, 193, 37, UC, RC, c_terms, c_modules)
nc = len(c_terms)
src_c = ColumnDataSource(dict(x=c_dot_module, y=[nc - 1 - t for t in c_dot_term],
                              s=[size_c(r) for r in c_dot_ratio], p=c_dot_p))
pc.scatter("x", "y", size="s", source=src_c, fill_color={"field": "p", "transform": cmap_p},
           line_color=None)
pc.add_layout(pbar(297, 102, 14, 63))
pc.text(x=[5.18], y=[20.75], text=["pvalue"], text_font=value(FONT),
        text_font_size="8.5px", text_font_style="bold", text_baseline="bottom", text_color=TXT)
leg_c_y = [8.95, 7.33, 5.72]
pc.text(x=[4.9], y=[10.57], text=["GeneRatio"], text_font=value(FONT), text_font_size="7.8px",
        text_font_style="bold", text_baseline="middle", text_color=TXT)
pc.scatter(x=[5.3] * 3, y=leg_c_y, size=[size_c(r) for r in c_size_breaks], color="black")
pc.text(x=[5.97] * 3, y=leg_c_y, text=["%.2f" % r for r in c_size_breaks], text_font=value(FONT),
        text_font_size="6.5px", text_baseline="middle", text_color="#333333")
letter(pc, xc0 + 20 / UC, ytc, "c")

# ================= panel d =================
pd_ = figure(width=W, height=311, x_range=Range1d(0, W), y_range=Range1d(901, 590),
             min_border=0, x_axis_location=None, y_axis_location=None,
             output_backend="svg", toolbar_location=None)
pd_.grid.visible = False
pd_.outline_line_color = None
idx = {n: i for i, n in enumerate(net_nodes)}
ex0, ey0, ex1, ey1 = [], [], [], []
for e in net_edges:
    a, b = e.split("-")
    ex0.append(net_x[idx[a]]); ey0.append(net_y[idx[a]])
    ex1.append(net_x[idx[b]]); ey1.append(net_y[idx[b]])
pd_.segment(ex0, ey0, ex1, ey1, line_color="#878787", line_width=1.2, line_alpha=0.85)
src_d = ColumnDataSource(dict(x=net_x, y=net_y, name=net_nodes,
                              c=[node_colors[m] for m in net_module]))
pd_.rect("x", "y", width=35, height=12, source=src_d, fill_color="c", line_color=None)
pd_.text("x", "y", text="name", source=src_d, text_align="center", text_baseline="middle",
         text_font=value(FONT), text_font_size="7.2px", text_color="#2a2a2a")
leg_top, leg_h = 673, 22.71
leg_y = [leg_top + (k + 0.5) * leg_h for k in range(len(modules_a))]
pd_.rect(x=[640] * len(modules_a), y=leg_y, width=14, height=leg_h,
         fill_color=[strip_colors[m] for m in modules_a], line_color=None)
pd_.text(x=[631] * len(modules_a), y=leg_y, text=modules_a, text_align="right", text_baseline="middle",
         text_font=value(FONT), text_font_size="9px", text_font_style="bold", text_color=TXT)
pd_.text(x=[13], y=[629], text=["d"], text_baseline="middle", text_font=value(FONT),
         text_font_size="15px", text_font_style="bold", text_color="black")

layout = column(pa, row(pb, pc), pd_)
open("out.html", "w").write(file_html(layout, INLINE))
